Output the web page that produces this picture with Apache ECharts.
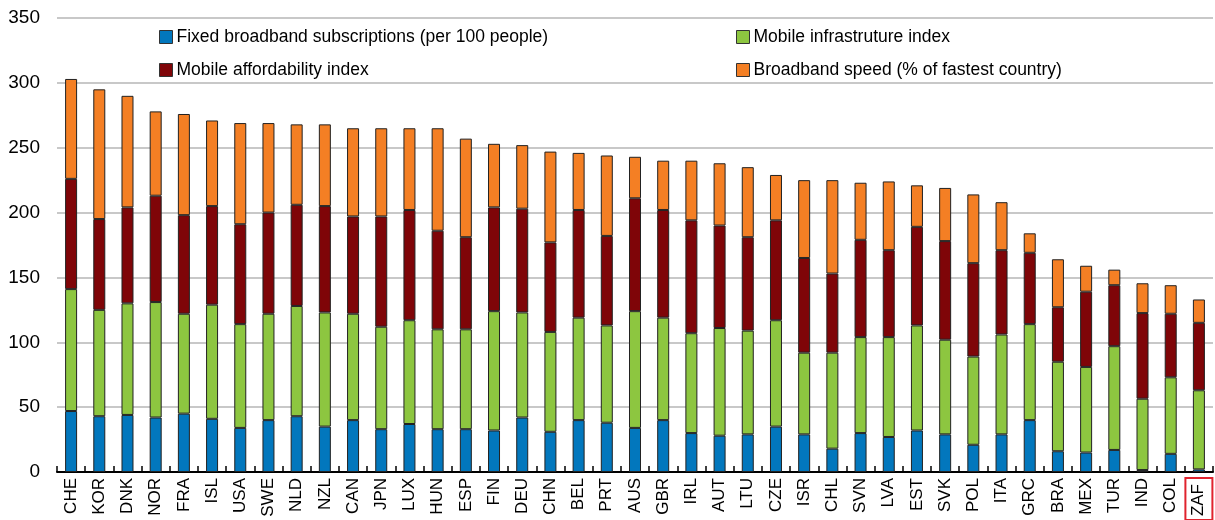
<!DOCTYPE html>
<html>
<head>
<meta charset="utf-8">
<script src="https://cdn.jsdelivr.net/npm/echarts@6/dist/echarts.min.js"></script>
<style>
  html, body { margin: 0; padding: 0; background: #fff; }
  #chart { width: 1215px; height: 520px; }
</style>
</head>
<body>
<div id="chart"></div>
<script>
const countries = ['CHE', 'KOR', 'DNK', 'NOR', 'FRA', 'ISL', 'USA', 'SWE', 'NLD', 'NZL',
  'CAN', 'JPN', 'LUX', 'HUN', 'ESP', 'FIN', 'DEU', 'CHN', 'BEL', 'PRT',
  'AUS', 'GBR', 'IRL', 'AUT', 'LTU', 'CZE', 'ISR', 'CHL', 'SVN', 'LVA',
  'EST', 'SVK', 'POL', 'ITA', 'GRC', 'BRA', 'MEX', 'TUR', 'IND', 'COL', 'ZAF'];
// ZAF is the highlighted country
const highlight = 'ZAF';

const fixedBroadband = [47, 43, 44, 42, 45, 41, 34, 40, 43, 35,
  40, 33, 37, 33, 33, 32, 42, 31, 40, 38,
  34, 40, 30, 28, 29, 35, 29, 18, 30, 27,
  32, 29, 21, 29, 40, 16, 15, 17, 1.5, 14, 2];
const mobileInfra = [94, 82, 86, 89, 77, 88, 80, 82, 85, 88,
  82, 79, 80, 77, 77, 92, 81, 77, 79, 75,
  90, 79, 77, 83, 80, 82, 63, 74, 74, 77,
  81, 73, 68, 77, 74, 69, 66, 80, 55, 59, 61];
const mobileAfford = [85, 70, 74, 82, 76, 76, 77, 78, 78, 82,
  75, 85, 85, 76, 71, 80, 80, 69, 83, 69,
  87, 83, 87, 79, 72, 77, 73, 61, 75, 67,
  76, 76, 72, 65, 55, 42, 58, 47, 66, 49, 52];
const broadbandSpeed = [77, 100, 86, 65, 78, 66, 78, 69, 62, 63,
  68, 68, 63, 79, 76, 49, 49, 70, 44, 62,
  32, 38, 46, 48, 54, 35, 60, 72, 44, 53,
  32, 41, 53, 37, 15, 37, 20, 12, 23, 22, 18];

const yTicks = [0, 50, 100, 150, 200, 250, 300, 350];

const names = [
  'Fixed broadband subscriptions (per 100 people)',
  'Mobile infrastruture index',
  'Mobile affordability index',
  'Broadband speed (% of fastest country)'
];
const colors = ['#0277BD', '#8DC640', '#7F0508', '#F47F24'];
const values = [fixedBroadband, mobileInfra, mobileAfford, broadbandSpeed];

const font = '"Liberation Sans", Arial, sans-serif';

let myChart = echarts.init(document.getElementById('chart'));

// one legend block per entry, so the 2x2 layout sits where it does in the figure
const legendPos = [
  { left: 159, top: 28 },
  { left: 736, top: 28 },
  { left: 159, top: 61 },
  { left: 736, top: 61 }
];

myChart.setOption({
  animation: false,
  color: colors,
  legend: legendPos.map((p, i) => ({
    data: [names[i]],
    left: p.left,
    top: p.top,
    icon: 'rect',
    itemWidth: 13,
    itemHeight: 13,
    itemGap: 0,
    padding: 0,
    itemStyle: { borderColor: '#333', borderWidth: 1 },
    textStyle: { fontFamily: font, fontSize: 17.5, color: '#000', padding: [0, 0, 0, -1] }
  })),
  grid: {
    left: 57,
    right: 2,
    top: 18,
    bottom: 48,
    outerBoundsMode: 'none',
    containLabel: false
  },
  xAxis: {
    type: 'category',
    data: countries,
    axisLine: { lineStyle: { color: '#000', width: 2 } },
    axisTick: { show: true, inside: true, length: 6, lineStyle: { color: '#000', width: 1.5 } },
    axisLabel: {
      rotate: 90,
      interval: 0,
      margin: 6,
      fontFamily: font,
      fontSize: 17,
      color: '#000',
      formatter: function (v) {
        return v === highlight ? '{hl|' + v + '}' : v;
      },
      rich: {
        hl: {
          fontFamily: font,
          fontSize: 17,
          color: '#000',
          borderColor: '#E0232E',
          borderWidth: 2,
          padding: [4, 6, 6, 4]
        }
      }
    }
  },
  yAxis: {
    type: 'value',
    min: yTicks[0],
    max: yTicks[yTicks.length - 1],
    interval: 50,
    axisLine: { show: false },
    axisTick: { show: false },
    axisLabel: { fontFamily: font, fontSize: 19, color: '#000', margin: 17 },
    splitLine: { lineStyle: { color: '#C8C8C8', width: 2 } }
  },
  series: names.map((n, i) => ({
    name: n,
    type: 'bar',
    stack: 'total',
    data: values[i],
    barWidth: 12,
    itemStyle: { color: colors[i], borderColor: '#222', borderWidth: 1 }
  }))
});

window.addEventListener('resize', () => {
  myChart.resize();
});
</script>
</body>
</html>
